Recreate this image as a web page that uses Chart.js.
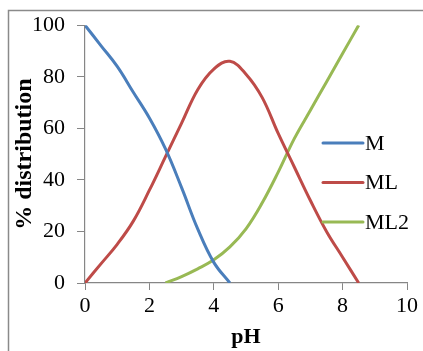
<!DOCTYPE html>
<html>
<head>
<meta charset="utf-8">
<script src="https://cdn.jsdelivr.net/npm/chart.js@4/dist/chart.umd.min.js"></script>
<style>
  html, body { margin: 0; padding: 0; background: #fff; }
  #wrap { width: 423px; height: 351px; }
</style>
</head>
<body>
<div id="wrap"><canvas id="chart"></canvas></div>
<script>
const phValues = [0, 0.5, 1, 1.5, 2, 2.5, 3, 3.5, 4, 4.5, 5, 5.5, 6, 6.5, 7, 7.5, 8, 8.5];
const seriesNames = ["M", "ML", "ML2"];
const mValues = [100, 92, 84, 74, 64, 52, 37, 21, 8, 0, null, null, null, null, null, null, null, null];
const mlValues = [0, 7.5, 15, 24, 36, 49, 62, 75, 83, 86, 81, 72, 58, 45, 32, 20, 10, 0];
const ml2Values = [null, null, null, null, null, 0, 2.5, 5.5, 9, 14, 21, 31, 43, 56, 67, 78, 89, 100];
const xTicks = [0, 2, 4, 6, 8, 10];
const yTicks = [0, 20, 40, 60, 80, 100];

const colors = ["#4A7EBB", "#BE4B48", "#98B954"];
const axisGray = "#868686";
const serif = '"Liberation Serif", "Times New Roman", Times, Tinos, serif';

Chart.defaults.font.family = serif;
Chart.defaults.color = "#000";

function points(vals) {
  return phValues.map((x, i) => ({ x: x, y: vals[i] }));
}

// grey frame round the chart and the legend drawn inside the plot
const framePlugin = {
  id: "frame",
  beforeDraw(chart) {
    const c = chart.ctx;
    c.save();
    c.strokeStyle = "#8a8a8a";
    c.lineWidth = 1.5;
    c.strokeRect(8.5, 10.5, 600, 600);
    c.restore();
  },
  afterDraw(chart) {
    const c = chart.ctx;
    const area = chart.chartArea;
    const x0 = area.right - 84;
    const y0 = 143;
    c.save();
    c.font = "22px " + serif;
    c.textBaseline = "middle";
    c.fillStyle = "#000";
    chart.data.datasets.forEach((ds, i) => {
      const y = y0 + i * 39.5;
      c.strokeStyle = ds.borderColor;
      c.lineWidth = 3;
      c.lineCap = "round";
      c.beginPath();
      c.moveTo(x0, y);
      c.lineTo(x0 + 40, y);
      c.stroke();
      c.fillText(ds.label, x0 + 42, y + 1);
    });
    c.restore();
  }
};

function draw() {
  new Chart(document.getElementById("chart"), {
    type: "line",
    data: {
      datasets: [
        { label: seriesNames[0], data: points(mValues), borderColor: colors[0], backgroundColor: colors[0] },
        { label: seriesNames[1], data: points(mlValues), borderColor: colors[1], backgroundColor: colors[1] },
        { label: seriesNames[2], data: points(ml2Values), borderColor: colors[2], backgroundColor: colors[2] },
      ],
    },
    options: {
      responsive: true,
      maintainAspectRatio: false,
      animation: false,
      spanGaps: false,
      elements: {
        line: { borderWidth: 3, tension: 0.4 },
        point: { radius: 0, hoverRadius: 0 },
      },
      plugins: {
        legend: { display: false },
        tooltip: { enabled: false },
      },
      layout: {
        padding: { left: 0, right: 16, top: 23, bottom: 0 },
      },
      scales: {
        x: {
          type: "linear",
          min: 0,
          max: 10,
          afterBuildTicks: (scale) => { scale.ticks = xTicks.map(v => ({ value: v })); },
          afterFit: (scale) => { scale.height = 68; },
          ticks: { font: { size: 22 }, padding: 3, maxRotation: 0 },
          grid: { drawOnChartArea: false, drawTicks: true, tickLength: 7, color: axisGray },
          border: { color: axisGray, width: 1.2 },
          title: { display: true, text: "pH", font: { size: 22, weight: "bold" }, padding: { top: 0, bottom: 0 } },
        },
        y: {
          min: 0,
          max: 100,
          afterBuildTicks: (scale) => { scale.ticks = yTicks.map(v => ({ value: v })); },
          afterFit: (scale) => { scale.width = 85; },
          ticks: { font: { size: 22 }, padding: 12 },
          grid: { drawOnChartArea: false, drawTicks: true, tickLength: 8, color: axisGray },
          border: { color: axisGray, width: 1.2 },
          title: { display: true, text: "% distribution", font: { size: 24, weight: "bold" }, padding: { top: 10, bottom: 0 } },
        },
      },
    },
    plugins: [framePlugin],
  });
}

Promise.all([
  document.fonts.load('22px "Liberation Serif"'),
  document.fonts.load('bold 22px "Liberation Serif"'),
]).then(draw, draw);
</script>
</body>
</html>
